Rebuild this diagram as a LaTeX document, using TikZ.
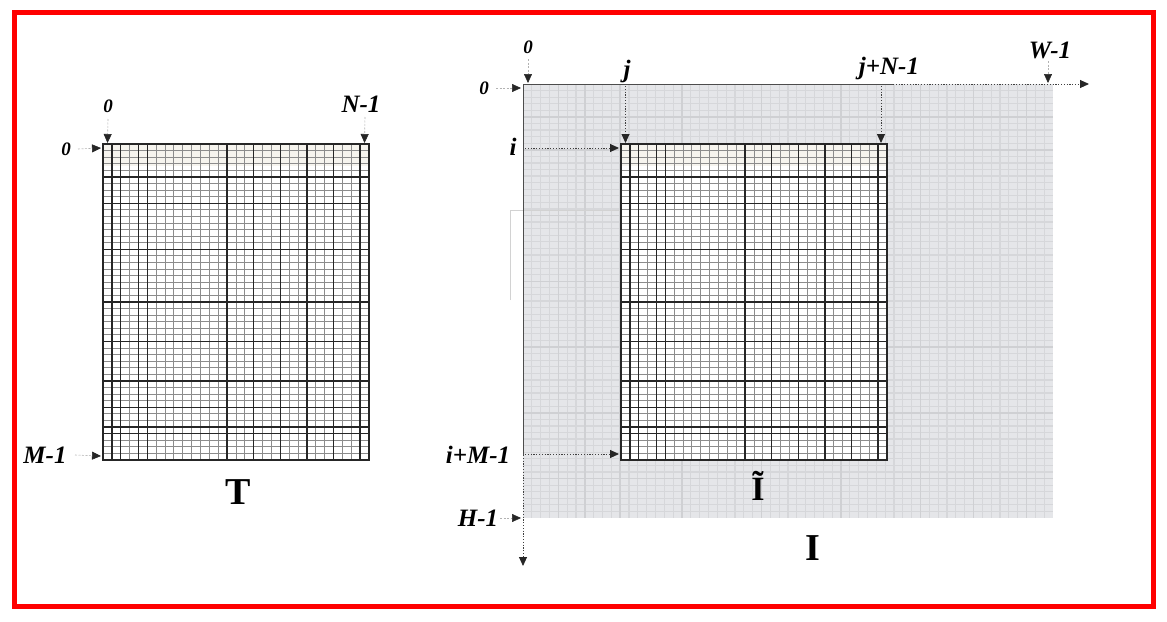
\documentclass[tikz,border=0pt]{standalone}
\usepackage{fontspec}
\setmainfont{Liberation Serif}
\usetikzlibrary{arrows.meta}
\definecolor{bggray}{HTML}{E5E6E9}
\definecolor{bgline}{HTML}{D6D7DA}
\definecolor{bgthick}{HTML}{CFD0D3}
\definecolor{cream}{HTML}{F6F4EE}
\tikzset{
  lab/.style={font=\fontsize{25}{25}\selectfont\bfseries\itshape, inner sep=0pt},
  zlab/.style={font=\fontsize{19}{19}\selectfont\bfseries\itshape, inner sep=0pt},
  big/.style={font=\fontsize{38}{38}\selectfont\bfseries, inner sep=0pt},
  tip/.style={-{Triangle[length=9pt,width=8pt,color=black!85]}},
  solidarr/.style={tip, draw=gray!60, line width=0.6pt, dash pattern=on 2pt off 1.5pt},
  dotarr/.style={tip, draw=black!75, line width=0.9pt, dash pattern=on 1.2pt off 1.6pt},
  thinl/.style={draw=black!45, line width=1pt},
  thickl/.style={draw=black!85, line width=1.4pt},
  bgl/.style={draw=bgline, line width=1.2pt},
  bgt/.style={draw=bgthick, line width=1.5pt},
  axisl/.style={draw=black!70, line width=1pt},
  ghost/.style={draw=gray!35, line width=0.8pt},
}
\newcommand{\denseGrid}{%
  \fill[white] (0,0) rectangle (266,316);
  \fill[cream] (0,0) rectangle (266,22);
  \foreach \i in {1,...,29} \draw[thinl] (\i*8.8667,0) -- (\i*8.8667,316);
  \foreach \j in {1,...,47} \draw[thinl] (0,\j*6.5833) -- (266,\j*6.5833);
  \foreach \i in {1,2,4,5,14,17,20,23,26,29} \draw[thickl] (\i*8.8667,0) -- (\i*8.8667,316);
  \foreach \j in {5,9,16,24,30,36,40,43,44} \draw[thickl] (0,\j*6.5833) -- (266,\j*6.5833);
  \draw[thickl] (0,0) rectangle (266,316);
}
\begin{document}
\begin{tikzpicture}[x=1pt,y=-1pt]
\useasboundingbox (0,0) rectangle (1167,621);

% ---------- T ----------
\coordinate (T-nw) at (103,144);
\begin{scope}[shift={(103,144)}]
  \denseGrid
\end{scope}
\coordinate (T0top) at (107.5,143);
\coordinate (TNtop) at (364.5,143);
\coordinate (T0left) at (101,148);
\coordinate (TMleft) at (101,456);

\node[zlab] (t0) at (108,106) {0};
\node[lab] (tN) at (361,104) {N-1};
\node[zlab] (tl0) at (66,149) {0};
\node[lab] (tM) at (45,455) {M-1};
\node[big] (tT) at (238,492) {T};

\draw[solidarr] ([yshift=-13pt]t0.center) -- (T0top);
\draw[solidarr] (365,117) -- (TNtop);
\draw[solidarr] ([xshift=12pt]tl0.center) -- (T0left);
\draw[solidarr] ([xshift=30pt]tM.center) -- (TMleft);

% ---------- I ----------
\coordinate (I-nw) at (523,84);
\fill[bggray] (523,84) rectangle (1053,518);
\foreach \i in {1,...,59} \draw[bgl] (523+\i*8.8333,84) -- (523+\i*8.8333,518);
\foreach \j in {1,...,65} \draw[bgl] (523,84+\j*6.5758) -- (1053,84+\j*6.5758);
\foreach \i in {4,7,11,18,27,36,45,51,57} \draw[bgt] (523+\i*8.8333,84) -- (523+\i*8.8333,518);
\foreach \j in {5,10,20,30,40,50,60} \draw[bgt] (523,84+\j*6.5758) -- (1053,84+\j*6.5758);

% faint artefact lines
\draw[ghost] (510,300) -- (510,210) -- (680,210) -- (680,303);

% ---------- I tilde ----------
\begin{scope}[shift={(621,144)}]
  \denseGrid
\end{scope}
\coordinate (Ij) at (625.5,143);
\coordinate (IjN) at (881,143);
\coordinate (Ii) at (619,148);
\coordinate (IiM) at (619,454);

% axes
\coordinate (Itopend) at (893,84);
\coordinate (Ixarrow) at (1089,84);
\coordinate (Ileftend) at (523,455);
\coordinate (Iyarrow) at (523,566);
\draw[axisl] (I-nw) -- (Itopend);
\draw[axisl] (I-nw) -- (Ileftend);
\draw[dotarr] (Itopend) -- (Ixarrow);
\draw[dotarr] (Ileftend) -- (Iyarrow);

\node[zlab] (i0top) at (528,47) {0};
\node[zlab] (i0left) at (484,88) {0};
\node[lab] (ij) at (627,71) {j};
\node[lab] (ii) at (513,147) {i};
\node[lab] (ijN) at (889,68) {j+N-1};
\node[lab] (iW) at (1050,50) {W-1};
\node[lab] (iiM) at (478,455) {i+M-1};
\node[lab] (iH) at (478,518) {H-1};
\node[font=\fontsize{34}{34}\selectfont\bfseries, inner sep=0pt] (iIt) at (758,486) {Ĩ};
\node[big] (iI) at (813,548) {I};

\draw[solidarr] ([yshift=-12pt]i0top.center) -- ([yshift=1pt]I-nw -| i0top);
\draw[solidarr] ([xshift=12pt]i0left.center) -- (521,88);
\draw[dotarr] (625.5,86) -- (Ij);
\draw[dotarr] (881,86) -- (IjN);
\draw[dotarr] (525,148) -- (Ii);
\draw[dotarr] (525,454) -- (IiM);
\draw[solidarr] (1048,61) -- (1048,83);
\draw[solidarr] ([xshift=22pt]iH.center) -- (521,518);

% red frame
\draw[red, line width=5pt] (14.5,12.5) rectangle (1153,606);
\end{tikzpicture}
\end{document}
